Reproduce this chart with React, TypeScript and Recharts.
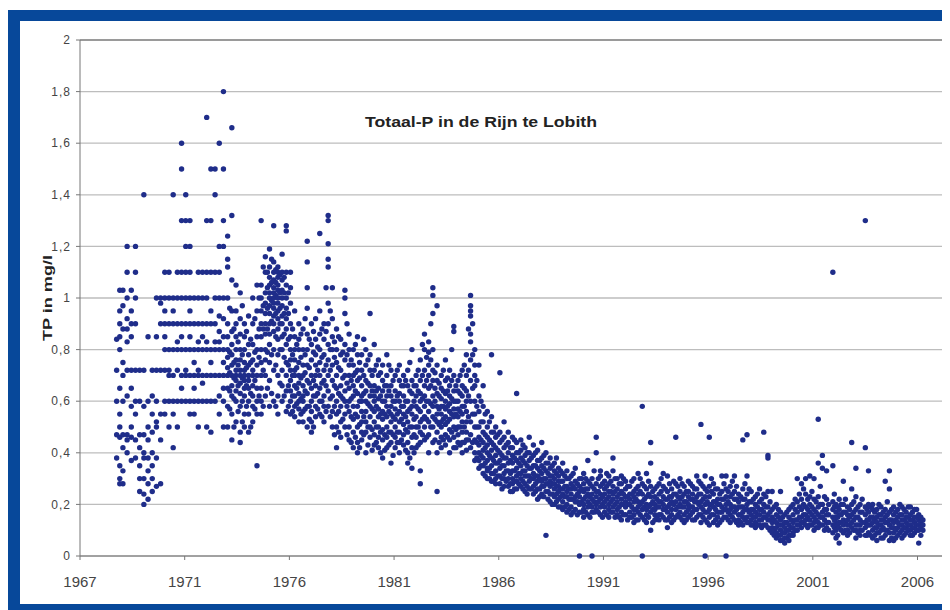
import {
  CartesianGrid,
  ReferenceLine,
  Scatter,
  ScatterChart,
  XAxis,
  YAxis,
} from 'recharts';

// each column: sampling time (decimal year) and the TP values (mg/l) read around it
type Column = [number, number[]];

const tp1968_1970: Column[] = [
  [1968.75, [0.84, 0.72, 0.6, 0.47, 0.38]],
  [1968.9, [1.03, 0.95, 0.9, 0.85, 0.8, 0.65, 0.55, 0.5, 0.46, 0.35, 0.3, 0.28]],
  [1969.05, [1.03, 0.97, 0.88, 0.75, 0.7, 0.6, 0.47, 0.42, 0.33, 0.28]],
  [1969.25, [1.2, 1.1, 1.0, 0.92, 0.88, 0.83, 0.72, 0.62, 0.47, 0.45, 0.4]],
  [1969.45, [1.03, 0.95, 0.9, 0.85, 0.72, 0.65, 0.58, 0.5, 0.46, 0.37]],
  [1969.65, [1.2, 1.1, 1.0, 0.9, 0.72, 0.6, 0.55, 0.45, 0.38]],
  [1969.85, [0.72, 0.6, 0.47, 0.42, 0.35, 0.3, 0.25]],
  [1970.05, [1.4, 0.72, 0.58, 0.47, 0.4, 0.38, 0.3, 0.24, 0.2]],
  [1970.25, [0.85, 0.6, 0.5, 0.45, 0.38, 0.33, 0.28, 0.22]],
  [1970.45, [0.72, 0.62, 0.55, 0.48, 0.4, 0.35, 0.3, 0.25]],
  [1970.65, [1.0, 0.85, 0.72, 0.6, 0.52, 0.5, 0.38, 0.27]],
  [1970.85, [1.0, 0.98, 0.9, 0.72, 0.55, 0.45, 0.28]],
];

const tp1971_1973: Column[] = [
  [1971.05, [1.1, 1.0, 0.95, 0.9, 0.85, 0.8, 0.72, 0.6, 0.55]],
  [1971.25, [1.1, 1.0, 0.9, 0.8, 0.72, 0.7, 0.6, 0.5]],
  [1971.45, [1.4, 1.0, 0.95, 0.9, 0.8, 0.7, 0.6, 0.55, 0.42]],
  [1971.65, [1.1, 1.0, 0.9, 0.83, 0.8, 0.72, 0.6, 0.5]],
  [1971.85, [1.6, 1.5, 1.3, 1.1, 1.0, 0.9, 0.85, 0.8, 0.7, 0.65, 0.6]],
  [1972.05, [1.4, 1.3, 1.2, 1.1, 1.0, 0.9, 0.8, 0.72, 0.7, 0.6]],
  [1972.25, [1.3, 1.2, 1.1, 1.0, 0.95, 0.9, 0.85, 0.8, 0.7, 0.6, 0.55]],
  [1972.45, [1.0, 0.9, 0.8, 0.75, 0.7, 0.65, 0.6, 0.55]],
  [1972.65, [1.1, 1.0, 0.9, 0.83, 0.8, 0.72, 0.7, 0.6, 0.5]],
  [1972.85, [1.1, 1.0, 0.9, 0.85, 0.8, 0.7, 0.67, 0.6]],
  [1973.05, [1.7, 1.3, 1.1, 1.0, 0.9, 0.83, 0.8, 0.7, 0.6, 0.5]],
  [1973.25, [1.5, 1.3, 1.1, 0.95, 0.9, 0.8, 0.75, 0.7, 0.6, 0.48]],
  [1973.45, [1.5, 1.4, 1.1, 1.0, 0.9, 0.83, 0.8, 0.7, 0.6]],
  [1973.65, [1.6, 1.2, 1.1, 1.0, 0.93, 0.87, 0.83, 0.8, 0.7, 0.62, 0.55]],
  [1973.85, [1.8, 1.5, 1.3, 1.2, 1.0, 0.92, 0.85, 0.8, 0.75, 0.7, 0.65, 0.6, 0.5]],
];

const tp1974_1976: Column[] = [
  [1974.05, [1.24, 1.15, 1.12, 1.0, 0.9, 0.85, 0.8, 0.77, 0.73, 0.7, 0.65, 0.58, 0.5]],
  [1974.15, [0.96, 0.79, 0.71, 0.64, 0.57]],
  [1974.25, [1.66, 1.32, 1.07, 0.95, 0.87, 0.82, 0.78, 0.74, 0.7, 0.66, 0.62, 0.55, 0.45]],
  [1974.35, [0.88, 0.75, 0.69, 0.61, 0.5]],
  [1974.45, [1.05, 0.95, 0.9, 0.85, 0.8, 0.76, 0.72, 0.7, 0.68, 0.64, 0.6, 0.52]],
  [1974.55, [0.83, 0.74, 0.66, 0.56]],
  [1974.65, [1.02, 0.92, 0.86, 0.8, 0.76, 0.72, 0.7, 0.67, 0.63, 0.58, 0.48, 0.44]],
  [1974.75, [0.97, 0.78, 0.69, 0.6, 0.52]],
  [1974.85, [0.9, 0.85, 0.8, 0.75, 0.72, 0.7, 0.68, 0.65, 0.62, 0.55, 0.5]],
  [1974.95, [0.87, 0.73, 0.66, 0.58]],
  [1975.05, [0.93, 0.82, 0.78, 0.74, 0.7, 0.68, 0.65, 0.6, 0.55, 0.48]],
  [1975.15, [0.84, 0.75, 0.63, 0.5]],
  [1975.25, [1.0, 0.9, 0.82, 0.76, 0.72, 0.7, 0.66, 0.62, 0.58, 0.52]],
  [1975.35, [0.92, 0.79, 0.68, 0.57]],
  [1975.45, [1.05, 0.95, 0.85, 0.8, 0.74, 0.7, 0.65, 0.6, 0.55, 0.35]],
  [1975.55, [1.0, 0.88, 0.77, 0.62]],
  [1975.65, [1.3, 1.05, 1.0, 0.95, 0.9, 0.85, 0.8, 0.75, 0.7, 0.65, 0.6, 0.55]],
  [1975.75, [1.12, 0.97, 0.88, 0.72, 0.58]],
  [1975.85, [1.16, 1.1, 1.02, 0.98, 0.94, 0.9, 0.86, 0.8, 0.76, 0.7, 0.62]],
  [1975.95, [1.1, 1.04, 0.96, 0.88, 0.79, 0.65]],
  [1976.05, [1.19, 1.12, 1.08, 1.05, 1.02, 1.0, 0.97, 0.94, 0.9, 0.86, 0.82, 0.75, 0.68, 0.58]],
  [1976.15, [1.15, 1.06, 0.99, 0.91, 0.78, 0.63]],
  [1976.25, [1.28, 1.14, 1.1, 1.07, 1.04, 1.02, 1.0, 0.98, 0.96, 0.93, 0.9, 0.87, 0.8, 0.72, 0.6]],
  [1976.35, [1.11, 1.06, 1.01, 0.94, 0.85, 0.74, 0.58]],
  [1976.45, [1.12, 1.1, 1.08, 1.05, 1.03, 1.0, 0.98, 0.95, 0.92, 0.88, 0.84, 0.78, 0.7, 0.62, 0.55]],
  [1976.55, [1.09, 1.02, 0.96, 0.9, 0.8, 0.67]],
  [1976.65, [1.17, 1.1, 1.07, 1.03, 1.0, 0.97, 0.93, 0.9, 0.85, 0.8, 0.72, 0.66, 0.6]],
  [1976.75, [1.08, 1.02, 0.94, 0.86, 0.77, 0.62]],
  [1976.85, [1.28, 1.26, 1.1, 1.05, 1.0, 0.96, 0.92, 0.88, 0.82, 0.75, 0.7, 0.64, 0.56]],
  [1976.95, [1.02, 0.94, 0.84, 0.74, 0.66, 0.58]],
];

const tp1977_1980: Column[] = [
  [1977.05, [1.1, 1.04, 0.98, 0.9, 0.85, 0.8, 0.76, 0.72, 0.68, 0.64, 0.6, 0.55]],
  [1977.15, [0.88, 0.78, 0.7, 0.62, 0.56]],
  [1977.25, [0.95, 0.85, 0.8, 0.76, 0.72, 0.7, 0.66, 0.62, 0.58, 0.54]],
  [1977.35, [0.82, 0.73, 0.65, 0.59]],
  [1977.45, [0.9, 0.84, 0.8, 0.75, 0.7, 0.67, 0.63, 0.6, 0.57, 0.52]],
  [1977.55, [0.86, 0.77, 0.69, 0.61, 0.55]],
  [1977.65, [0.88, 0.8, 0.74, 0.7, 0.66, 0.62, 0.6, 0.56, 0.52]],
  [1977.75, [0.92, 0.78, 0.71, 0.64, 0.57]],
  [1977.85, [1.22, 1.14, 1.04, 0.96, 0.86, 0.8, 0.74, 0.68, 0.63, 0.58, 0.5]],
  [1977.95, [0.84, 0.73, 0.67, 0.58, 0.53]],
  [1978.05, [0.9, 0.82, 0.76, 0.7, 0.65, 0.6, 0.56, 0.52, 0.48]],
  [1978.15, [0.87, 0.79, 0.68, 0.62, 0.5]],
  [1978.25, [0.92, 0.84, 0.78, 0.74, 0.7, 0.66, 0.62, 0.58, 0.54]],
  [1978.35, [0.81, 0.72, 0.63, 0.57]],
  [1978.45, [1.25, 0.95, 0.86, 0.8, 0.75, 0.7, 0.65, 0.6, 0.55]],
  [1978.55, [0.88, 0.77, 0.67, 0.6, 0.54]],
  [1978.65, [0.9, 0.84, 0.78, 0.72, 0.68, 0.62, 0.58, 0.52]],
  [1978.75, [1.04, 0.87, 0.74, 0.66, 0.56]],
  [1978.85, [1.32, 1.3, 1.21, 1.15, 1.12, 0.98, 0.9, 0.82, 0.76, 0.7, 0.64, 0.58]],
  [1978.95, [0.95, 0.8, 0.72, 0.61, 0.54]],
  [1979.05, [1.04, 0.92, 0.85, 0.8, 0.74, 0.68, 0.62, 0.56, 0.5]],
  [1979.15, [0.83, 0.77, 0.66, 0.58, 0.47]],
  [1979.25, [0.88, 0.8, 0.75, 0.7, 0.65, 0.6, 0.55, 0.5, 0.42]],
  [1979.35, [0.85, 0.73, 0.63, 0.56, 0.48]],
  [1979.45, [0.84, 0.78, 0.72, 0.66, 0.62, 0.58, 0.52, 0.46]],
  [1979.55, [0.79, 0.69, 0.61, 0.53]],
  [1979.65, [1.03, 1.0, 0.94, 0.82, 0.76, 0.7, 0.64, 0.6, 0.55, 0.5]],
  [1979.75, [0.9, 0.78, 0.67, 0.58, 0.47]],
  [1979.85, [0.86, 0.8, 0.74, 0.7, 0.65, 0.6, 0.56, 0.5, 0.45]],
  [1979.95, [0.76, 0.68, 0.61, 0.54, 0.44]],
  [1980.05, [0.8, 0.74, 0.7, 0.66, 0.62, 0.58, 0.53, 0.48, 0.42]],
  [1980.15, [0.82, 0.71, 0.64, 0.55, 0.46]],
  [1980.25, [0.85, 0.78, 0.72, 0.68, 0.63, 0.58, 0.54, 0.5, 0.44, 0.4]],
  [1980.35, [0.75, 0.69, 0.6, 0.51, 0.42]],
  [1980.45, [0.78, 0.72, 0.66, 0.62, 0.6, 0.56, 0.52, 0.48, 0.45]],
  [1980.55, [0.84, 0.7, 0.63, 0.54, 0.47]],
  [1980.65, [0.8, 0.74, 0.68, 0.64, 0.6, 0.56, 0.52, 0.48, 0.4]],
  [1980.75, [0.76, 0.67, 0.59, 0.5, 0.43]],
  [1980.85, [0.94, 0.78, 0.72, 0.66, 0.62, 0.58, 0.54, 0.5, 0.46]],
  [1980.95, [0.7, 0.64, 0.57, 0.49, 0.41]],
];

const tp1981_1985: Column[] = [
  [1981.05, [0.82, 0.72, 0.66, 0.62, 0.6, 0.56, 0.52, 0.47, 0.43]],
  [1981.15, [0.74, 0.64, 0.58, 0.5, 0.44]],
  [1981.25, [0.76, 0.7, 0.65, 0.61, 0.57, 0.54, 0.5, 0.46, 0.42]],
  [1981.35, [0.71, 0.62, 0.55, 0.48, 0.4]],
  [1981.45, [0.74, 0.68, 0.64, 0.6, 0.56, 0.53, 0.49, 0.45, 0.38]],
  [1981.55, [0.66, 0.6, 0.55, 0.47, 0.41]],
  [1981.65, [0.78, 0.7, 0.66, 0.62, 0.58, 0.54, 0.5, 0.46, 0.42]],
  [1981.75, [0.74, 0.64, 0.56, 0.48, 0.43]],
  [1981.85, [0.72, 0.66, 0.62, 0.58, 0.55, 0.52, 0.48, 0.44, 0.36]],
  [1981.95, [0.68, 0.6, 0.54, 0.47, 0.39]],
  [1982.05, [0.7, 0.64, 0.6, 0.57, 0.53, 0.5, 0.46, 0.42]],
  [1982.15, [0.72, 0.62, 0.55, 0.48, 0.44]],
  [1982.25, [0.74, 0.68, 0.63, 0.6, 0.56, 0.52, 0.48, 0.44, 0.4]],
  [1982.35, [0.66, 0.58, 0.53, 0.45]],
  [1982.45, [0.7, 0.66, 0.62, 0.58, 0.55, 0.51, 0.47, 0.43]],
  [1982.55, [0.68, 0.6, 0.54, 0.49, 0.41]],
  [1982.65, [0.72, 0.66, 0.6, 0.56, 0.52, 0.48, 0.44, 0.4, 0.36]],
  [1982.75, [0.75, 0.64, 0.57, 0.5, 0.38]],
  [1982.85, [0.8, 0.68, 0.63, 0.58, 0.55, 0.5, 0.46, 0.42, 0.34]],
  [1982.95, [0.66, 0.6, 0.53, 0.47, 0.4]],
  [1983.05, [0.7, 0.66, 0.62, 0.58, 0.54, 0.5, 0.46, 0.42]],
  [1983.15, [0.72, 0.64, 0.57, 0.5, 0.43]],
  [1983.25, [0.76, 0.68, 0.63, 0.6, 0.56, 0.52, 0.48, 0.44, 0.33, 0.28]],
  [1983.35, [0.82, 0.7, 0.61, 0.53, 0.47]],
  [1983.45, [0.86, 0.8, 0.72, 0.66, 0.62, 0.58, 0.54, 0.5, 0.45]],
  [1983.55, [0.77, 0.68, 0.6, 0.53, 0.46]],
  [1983.65, [0.83, 0.79, 0.74, 0.7, 0.65, 0.6, 0.56, 0.52, 0.47, 0.4]],
  [1983.75, [0.9, 0.76, 0.66, 0.59, 0.5]],
  [1983.85, [1.04, 1.01, 0.94, 0.8, 0.72, 0.68, 0.62, 0.58, 0.54, 0.5, 0.44]],
  [1983.95, [0.71, 0.65, 0.6, 0.53, 0.45]],
  [1984.05, [0.97, 0.74, 0.68, 0.63, 0.58, 0.55, 0.52, 0.48, 0.4, 0.25]],
  [1984.15, [0.67, 0.62, 0.57, 0.51, 0.44]],
  [1984.25, [0.7, 0.65, 0.61, 0.58, 0.55, 0.52, 0.5, 0.46, 0.42]],
  [1984.35, [0.72, 0.64, 0.58, 0.53, 0.45]],
  [1984.45, [0.76, 0.68, 0.63, 0.6, 0.57, 0.54, 0.51, 0.47, 0.43]],
  [1984.55, [0.69, 0.64, 0.58, 0.52, 0.46]],
  [1984.65, [0.72, 0.66, 0.62, 0.59, 0.56, 0.53, 0.49, 0.45, 0.4]],
  [1984.75, [0.8, 0.68, 0.61, 0.55, 0.48]],
  [1984.85, [0.89, 0.87, 0.7, 0.64, 0.6, 0.57, 0.54, 0.5, 0.46, 0.42]],
  [1984.95, [0.66, 0.6, 0.55, 0.49, 0.42]],
  [1985.05, [0.68, 0.64, 0.6, 0.57, 0.54, 0.5, 0.47, 0.44]],
  [1985.15, [0.7, 0.63, 0.56, 0.5, 0.43]],
  [1985.25, [0.72, 0.66, 0.62, 0.58, 0.55, 0.52, 0.48, 0.44, 0.4]],
  [1985.35, [0.74, 0.65, 0.58, 0.5, 0.44]],
  [1985.45, [0.78, 0.7, 0.64, 0.6, 0.56, 0.52, 0.48, 0.45, 0.41]],
  [1985.55, [0.88, 0.72, 0.62, 0.54, 0.45]],
  [1985.65, [1.01, 0.97, 0.95, 0.93, 0.86, 0.83, 0.76, 0.68, 0.6, 0.52, 0.47, 0.42]],
  [1985.75, [0.9, 0.78, 0.65, 0.55, 0.44]],
  [1985.85, [0.8, 0.74, 0.7, 0.66, 0.6, 0.55, 0.5, 0.45, 0.4, 0.37]],
  [1985.95, [0.68, 0.58, 0.5, 0.44, 0.38]],
];

const tp1986_1989: Column[] = [
  [1986.05, [0.74, 0.62, 0.56, 0.5, 0.46, 0.43, 0.4, 0.37, 0.34]],
  [1986.15, [0.6, 0.52, 0.45, 0.39, 0.35]],
  [1986.25, [0.66, 0.58, 0.52, 0.48, 0.44, 0.41, 0.38, 0.35, 0.32]],
  [1986.35, [0.55, 0.47, 0.42, 0.36, 0.31]],
  [1986.45, [0.56, 0.5, 0.46, 0.43, 0.4, 0.37, 0.34, 0.33, 0.3]],
  [1986.55, [0.52, 0.45, 0.39, 0.34, 0.3]],
  [1986.65, [0.78, 0.54, 0.48, 0.44, 0.41, 0.38, 0.35, 0.32, 0.29]],
  [1986.75, [0.48, 0.43, 0.37, 0.32, 0.29]],
  [1986.85, [0.5, 0.46, 0.42, 0.39, 0.36, 0.33, 0.3, 0.28]],
  [1986.95, [0.47, 0.41, 0.36, 0.31]],
  [1987.05, [0.71, 0.48, 0.44, 0.4, 0.37, 0.34, 0.31, 0.28]],
  [1987.15, [0.45, 0.39, 0.35, 0.3, 0.26]],
  [1987.25, [0.52, 0.46, 0.42, 0.38, 0.35, 0.32, 0.3, 0.27]],
  [1987.35, [0.43, 0.38, 0.33, 0.29]],
  [1987.45, [0.48, 0.44, 0.4, 0.36, 0.33, 0.3, 0.27]],
  [1987.55, [0.42, 0.37, 0.32, 0.28, 0.25]],
  [1987.65, [0.46, 0.42, 0.39, 0.36, 0.33, 0.3, 0.28, 0.25]],
  [1987.75, [0.45, 0.38, 0.33, 0.29, 0.26]],
  [1987.85, [0.63, 0.44, 0.4, 0.37, 0.34, 0.31, 0.29, 0.26]],
  [1987.95, [0.4, 0.36, 0.32, 0.28]],
  [1988.05, [0.45, 0.41, 0.38, 0.35, 0.32, 0.3, 0.27]],
  [1988.15, [0.43, 0.37, 0.33, 0.29, 0.26]],
  [1988.25, [0.42, 0.39, 0.36, 0.33, 0.31, 0.28, 0.25]],
  [1988.35, [0.4, 0.35, 0.31, 0.27, 0.24]],
  [1988.45, [0.46, 0.4, 0.37, 0.34, 0.31, 0.29, 0.26]],
  [1988.55, [0.38, 0.34, 0.3, 0.26]],
  [1988.65, [0.43, 0.39, 0.35, 0.32, 0.3, 0.27, 0.24]],
  [1988.75, [0.4, 0.35, 0.31, 0.28, 0.25]],
  [1988.85, [0.41, 0.37, 0.34, 0.31, 0.29, 0.26, 0.22]],
  [1988.95, [0.37, 0.33, 0.3, 0.26, 0.23]],
  [1989.05, [0.44, 0.38, 0.35, 0.32, 0.29, 0.27, 0.24]],
  [1989.15, [0.39, 0.34, 0.3, 0.27, 0.23]],
  [1989.25, [0.4, 0.36, 0.33, 0.3, 0.28, 0.25, 0.08]],
  [1989.35, [0.36, 0.32, 0.28, 0.25, 0.22]],
  [1989.45, [0.38, 0.34, 0.31, 0.29, 0.27, 0.24, 0.21]],
  [1989.55, [0.35, 0.31, 0.28, 0.24, 0.2]],
  [1989.65, [0.36, 0.33, 0.3, 0.28, 0.26, 0.23, 0.2]],
  [1989.75, [0.38, 0.32, 0.27, 0.24, 0.21]],
  [1989.85, [0.34, 0.31, 0.29, 0.27, 0.25, 0.22, 0.19]],
  [1989.95, [0.33, 0.29, 0.26, 0.23, 0.19]],
];

const tp1990_1995: Column[] = [
  [1990.05, [0.36, 0.32, 0.29, 0.26, 0.24, 0.21, 0.18]],
  [1990.15, [0.31, 0.27, 0.23, 0.19]],
  [1990.25, [0.33, 0.3, 0.27, 0.25, 0.23, 0.2, 0.17]],
  [1990.35, [0.3, 0.26, 0.22, 0.18]],
  [1990.45, [0.31, 0.28, 0.26, 0.24, 0.22, 0.19, 0.16]],
  [1990.55, [0.32, 0.27, 0.22, 0.17]],
  [1990.65, [0.34, 0.29, 0.26, 0.23, 0.21, 0.18]],
  [1990.75, [0.28, 0.24, 0.21, 0.16]],
  [1990.85, [0.3, 0.27, 0.25, 0.23, 0.2, 0.17, 0.0]],
  [1990.95, [0.3, 0.26, 0.21, 0.17]],
  [1991.05, [0.32, 0.28, 0.25, 0.22, 0.2, 0.18, 0.15]],
  [1991.15, [0.3, 0.26, 0.23, 0.17]],
  [1991.25, [0.37, 0.29, 0.26, 0.24, 0.21, 0.19, 0.16]],
  [1991.35, [0.28, 0.23, 0.2, 0.15]],
  [1991.45, [0.3, 0.27, 0.24, 0.22, 0.19, 0.17, 0.0]],
  [1991.55, [0.33, 0.26, 0.21, 0.17]],
  [1991.65, [0.46, 0.4, 0.28, 0.25, 0.23, 0.2, 0.18]],
  [1991.75, [0.3, 0.25, 0.21, 0.17]],
  [1991.85, [0.33, 0.31, 0.27, 0.24, 0.22, 0.19, 0.16]],
  [1991.95, [0.28, 0.23, 0.2, 0.15]],
  [1992.05, [0.29, 0.26, 0.24, 0.21, 0.19, 0.17]],
  [1992.15, [0.32, 0.27, 0.22, 0.16]],
  [1992.25, [0.31, 0.28, 0.25, 0.23, 0.2, 0.18, 0.15]],
  [1992.35, [0.29, 0.25, 0.21, 0.17]],
  [1992.45, [0.38, 0.33, 0.27, 0.24, 0.22, 0.19, 0.17]],
  [1992.55, [0.3, 0.25, 0.2, 0.15]],
  [1992.65, [0.3, 0.26, 0.23, 0.21, 0.18, 0.16]],
  [1992.75, [0.28, 0.24, 0.19, 0.15]],
  [1992.85, [0.31, 0.28, 0.25, 0.22, 0.2, 0.17, 0.14]],
  [1992.95, [0.3, 0.24, 0.2, 0.16]],
  [1993.05, [0.29, 0.26, 0.23, 0.21, 0.19, 0.16]],
  [1993.15, [0.27, 0.23, 0.2, 0.14]],
  [1993.25, [0.27, 0.24, 0.22, 0.2, 0.17, 0.15]],
  [1993.35, [0.29, 0.24, 0.19, 0.15]],
  [1993.45, [0.3, 0.25, 0.23, 0.21, 0.18, 0.16, 0.13]],
  [1993.55, [0.26, 0.22, 0.18, 0.14]],
  [1993.65, [0.32, 0.27, 0.24, 0.21, 0.19, 0.17, 0.14]],
  [1993.75, [0.3, 0.25, 0.2, 0.16]],
  [1993.85, [0.58, 0.28, 0.24, 0.21, 0.18, 0.15, 0.0]],
  [1993.95, [0.27, 0.22, 0.19, 0.14]],
  [1994.05, [0.32, 0.26, 0.23, 0.2, 0.18, 0.16, 0.13]],
  [1994.15, [0.29, 0.24, 0.19, 0.15]],
  [1994.25, [0.44, 0.36, 0.27, 0.23, 0.2, 0.17, 0.1]],
  [1994.35, [0.25, 0.21, 0.18, 0.13]],
  [1994.45, [0.26, 0.23, 0.2, 0.18, 0.16, 0.14]],
  [1994.55, [0.27, 0.22, 0.19, 0.15]],
  [1994.65, [0.28, 0.24, 0.21, 0.19, 0.16, 0.14]],
  [1994.75, [0.3, 0.25, 0.21, 0.16]],
  [1994.85, [0.32, 0.27, 0.23, 0.2, 0.18, 0.15]],
  [1994.95, [0.26, 0.22, 0.18, 0.14]],
  [1995.05, [0.31, 0.25, 0.22, 0.19, 0.17, 0.14, 0.11]],
  [1995.15, [0.28, 0.23, 0.2, 0.15]],
  [1995.25, [0.26, 0.23, 0.21, 0.18, 0.16, 0.13]],
  [1995.35, [0.29, 0.24, 0.2, 0.14]],
  [1995.45, [0.46, 0.28, 0.24, 0.21, 0.18, 0.15]],
  [1995.55, [0.27, 0.23, 0.19, 0.16]],
  [1995.65, [0.3, 0.25, 0.22, 0.2, 0.17, 0.15]],
  [1995.75, [0.28, 0.23, 0.19, 0.14]],
  [1995.85, [0.27, 0.24, 0.21, 0.19, 0.16, 0.13]],
  [1995.95, [0.25, 0.21, 0.17, 0.14]],
];

const tp1996_1999: Column[] = [
  [1996.05, [0.29, 0.25, 0.23, 0.2, 0.18, 0.15]],
  [1996.15, [0.28, 0.22, 0.19, 0.16]],
  [1996.25, [0.27, 0.24, 0.22, 0.19, 0.17, 0.14]],
  [1996.35, [0.26, 0.21, 0.18, 0.14]],
  [1996.45, [0.31, 0.26, 0.23, 0.21, 0.18, 0.15]],
  [1996.55, [0.29, 0.24, 0.2, 0.16]],
  [1996.65, [0.51, 0.28, 0.24, 0.21, 0.19, 0.16, 0.13]],
  [1996.75, [0.27, 0.22, 0.18, 0.15]],
  [1996.85, [0.31, 0.26, 0.23, 0.2, 0.17, 0.14, 0.0]],
  [1996.95, [0.25, 0.21, 0.17, 0.13]],
  [1997.05, [0.46, 0.27, 0.23, 0.2, 0.18, 0.15, 0.12]],
  [1997.15, [0.3, 0.25, 0.2, 0.16]],
  [1997.25, [0.28, 0.24, 0.21, 0.19, 0.16, 0.13]],
  [1997.35, [0.26, 0.21, 0.18, 0.14]],
  [1997.45, [0.26, 0.22, 0.2, 0.17, 0.15, 0.12]],
  [1997.55, [0.24, 0.2, 0.17, 0.13]],
  [1997.65, [0.31, 0.25, 0.22, 0.19, 0.17, 0.14]],
  [1997.75, [0.28, 0.22, 0.18, 0.15]],
  [1997.85, [0.31, 0.26, 0.23, 0.2, 0.18, 0.15, 0.0]],
  [1997.95, [0.25, 0.21, 0.17, 0.14]],
  [1998.05, [0.27, 0.23, 0.2, 0.18, 0.16, 0.13]],
  [1998.15, [0.29, 0.24, 0.19, 0.15]],
  [1998.25, [0.31, 0.25, 0.22, 0.19, 0.17, 0.14]],
  [1998.35, [0.27, 0.22, 0.18, 0.13]],
  [1998.45, [0.24, 0.21, 0.19, 0.16, 0.14, 0.12]],
  [1998.55, [0.23, 0.19, 0.16, 0.13]],
  [1998.65, [0.45, 0.26, 0.22, 0.19, 0.17, 0.15, 0.12]],
  [1998.75, [0.28, 0.22, 0.18, 0.14]],
  [1998.85, [0.47, 0.31, 0.24, 0.2, 0.18, 0.15, 0.13]],
  [1998.95, [0.26, 0.21, 0.17, 0.13]],
  [1999.05, [0.25, 0.21, 0.18, 0.16, 0.14, 0.12]],
  [1999.15, [0.22, 0.18, 0.15, 0.12]],
  [1999.25, [0.23, 0.2, 0.17, 0.15, 0.13, 0.11]],
  [1999.35, [0.24, 0.19, 0.16, 0.12]],
  [1999.45, [0.26, 0.21, 0.18, 0.16, 0.14, 0.12]],
  [1999.55, [0.22, 0.18, 0.14, 0.11]],
  [1999.65, [0.48, 0.24, 0.2, 0.17, 0.15, 0.12]],
  [1999.75, [0.23, 0.19, 0.15, 0.12]],
  [1999.85, [0.39, 0.38, 0.25, 0.19, 0.16, 0.14, 0.11]],
  [1999.95, [0.21, 0.17, 0.14, 0.1]],
];

const tp2000_2007: Column[] = [
  [2000.05, [0.25, 0.18, 0.15, 0.13, 0.11, 0.09]],
  [2000.15, [0.19, 0.14, 0.1, 0.08]],
  [2000.25, [0.2, 0.16, 0.13, 0.11, 0.09, 0.07]],
  [2000.35, [0.18, 0.15, 0.12, 0.08]],
  [2000.45, [0.25, 0.17, 0.14, 0.12, 0.1, 0.08, 0.06]],
  [2000.55, [0.15, 0.12, 0.09, 0.06]],
  [2000.65, [0.16, 0.13, 0.11, 0.09, 0.07, 0.05]],
  [2000.75, [0.17, 0.13, 0.1, 0.07]],
  [2000.85, [0.18, 0.15, 0.12, 0.1, 0.08, 0.06]],
  [2000.95, [0.19, 0.14, 0.11, 0.08]],
  [2001.05, [0.2, 0.16, 0.13, 0.11, 0.09, 0.08]],
  [2001.15, [0.22, 0.18, 0.14, 0.1]],
  [2001.25, [0.3, 0.21, 0.17, 0.14, 0.12, 0.1]],
  [2001.35, [0.24, 0.19, 0.15, 0.12]],
  [2001.45, [0.28, 0.22, 0.18, 0.15, 0.13, 0.11]],
  [2001.55, [0.26, 0.2, 0.16, 0.13]],
  [2001.65, [0.3, 0.24, 0.19, 0.16, 0.14, 0.12]],
  [2001.75, [0.22, 0.18, 0.15, 0.11]],
  [2001.85, [0.31, 0.23, 0.2, 0.17, 0.14, 0.12]],
  [2001.95, [0.25, 0.19, 0.16, 0.12]],
  [2002.05, [0.3, 0.22, 0.18, 0.15, 0.13, 0.1]],
  [2002.15, [0.21, 0.17, 0.14, 0.11]],
  [2002.25, [0.53, 0.36, 0.23, 0.19, 0.16, 0.13, 0.11]],
  [2002.35, [0.27, 0.2, 0.15, 0.12]],
  [2002.45, [0.39, 0.34, 0.2, 0.17, 0.15, 0.12]],
  [2002.55, [0.23, 0.18, 0.14, 0.1]],
  [2002.65, [0.33, 0.22, 0.18, 0.16, 0.13, 0.11]],
  [2002.75, [0.2, 0.16, 0.13, 0.1]],
  [2002.95, [1.1, 0.35, 0.21, 0.18, 0.15, 0.12, 0.09]],
  [2003.02, [0.24, 0.19, 0.14, 0.11]],
  [2003.1, [0.2, 0.17, 0.15, 0.13, 0.1, 0.07]],
  [2003.18, [0.19, 0.15, 0.12, 0.08]],
  [2003.25, [0.22, 0.18, 0.16, 0.13, 0.11, 0.05]],
  [2003.35, [0.2, 0.16, 0.13, 0.1]],
  [2003.45, [0.29, 0.2, 0.17, 0.14, 0.12, 0.09]],
  [2003.55, [0.22, 0.17, 0.13, 0.1]],
  [2003.65, [0.19, 0.16, 0.14, 0.12, 0.1, 0.08]],
  [2003.75, [0.18, 0.15, 0.12, 0.09]],
  [2003.85, [0.44, 0.26, 0.2, 0.16, 0.13, 0.11]],
  [2003.95, [0.21, 0.17, 0.14, 0.1]],
  [2004.05, [0.34, 0.23, 0.18, 0.15, 0.12, 0.1, 0.07]],
  [2004.15, [0.19, 0.15, 0.12, 0.09]],
  [2004.25, [0.2, 0.17, 0.14, 0.12, 0.1, 0.08]],
  [2004.35, [0.22, 0.17, 0.13, 0.1]],
  [2004.5, [1.3, 0.42, 0.19, 0.16, 0.13, 0.11, 0.08]],
  [2004.58, [0.18, 0.14, 0.12, 0.08]],
  [2004.65, [0.33, 0.2, 0.17, 0.14, 0.12, 0.09]],
  [2004.75, [0.19, 0.15, 0.12, 0.08]],
  [2004.85, [0.2, 0.18, 0.15, 0.13, 0.1, 0.07]],
  [2004.95, [0.17, 0.14, 0.11, 0.08]],
  [2005.05, [0.18, 0.15, 0.13, 0.11, 0.09, 0.06]],
  [2005.15, [0.2, 0.16, 0.12, 0.09]],
  [2005.25, [0.19, 0.16, 0.14, 0.12, 0.1, 0.07]],
  [2005.35, [0.17, 0.14, 0.11, 0.07]],
  [2005.45, [0.29, 0.18, 0.15, 0.13, 0.1, 0.08]],
  [2005.55, [0.21, 0.16, 0.13, 0.1]],
  [2005.65, [0.33, 0.26, 0.17, 0.14, 0.12, 0.09, 0.06]],
  [2005.75, [0.18, 0.14, 0.11, 0.07]],
  [2005.85, [0.19, 0.16, 0.13, 0.11, 0.09, 0.06]],
  [2005.95, [0.17, 0.14, 0.1, 0.07]],
  [2006.05, [0.18, 0.15, 0.13, 0.11, 0.08]],
  [2006.15, [0.2, 0.16, 0.12, 0.09]],
  [2006.25, [0.19, 0.16, 0.14, 0.12, 0.1, 0.07]],
  [2006.35, [0.18, 0.14, 0.11, 0.08]],
  [2006.45, [0.17, 0.15, 0.13, 0.11, 0.09]],
  [2006.55, [0.19, 0.15, 0.12, 0.1]],
  [2006.65, [0.19, 0.16, 0.14, 0.12, 0.1, 0.08]],
  [2006.75, [0.17, 0.14, 0.11, 0.08]],
  [2006.85, [0.18, 0.15, 0.13, 0.11, 0.09]],
  [2006.95, [0.18, 0.15, 0.12, 0.1]],
  [2007.05, [0.16, 0.14, 0.12, 0.1, 0.05]],
  [2007.15, [0.15, 0.13, 0.11, 0.08]],
  [2007.25, [0.14, 0.12, 0.1]],
];

// Excel date axis: a major unit of 1826 days, labelled with the year only
const yearTicks = [1967, 1971.999, 1976.998, 1981.997, 1986.996, 1991.995, 1996.994, 2001.993, 2006.992];
const valueTicks = [0, 0.2, 0.4, 0.6, 0.8, 1, 1.2, 1.4, 1.6, 1.8, 2];

const title = 'Totaal-P in de Rijn te Lobith';
const yTitle = 'TP in mg/l';

const xMin = 1967;
const xMax = 2008.4;

const points = [
  ...tp1968_1970,
  ...tp1971_1973,
  ...tp1974_1976,
  ...tp1977_1980,
  ...tp1981_1985,
  ...tp1986_1989,
  ...tp1990_1995,
  ...tp1996_1999,
  ...tp2000_2007,
].flatMap(([year, values]) => values.map((tp) => ({ year, tp })));

const formatValue = (v: number) =>
  String(Math.round(v * 10) / 10).replace('.', ',');

const Dot = ({ cx, cy }: any) =>
  cx == null || cy == null ? null : <circle cx={cx} cy={cy} r={2.7} fill="#1f2d8a" />;

const YTitle = ({ viewBox }: any) => {
  const cx = viewBox.x + 8;
  const cy = viewBox.y + viewBox.height / 2;
  return (
    <text
      x={cx}
      y={cy}
      transform={`rotate(-90 ${cx} ${cy})`}
      textAnchor="middle"
      dominantBaseline="central"
      fontSize={12}
      fontWeight="bold"
      fill="#222"
      textLength={86}
      lengthAdjust="spacingAndGlyphs"
    >
      {yTitle}
    </text>
  );
};

export default function App() {
  return (
    <div
      style={{
        position: 'relative',
        marginTop: 2,
        width: 942,
        height: 600,
        boxSizing: 'border-box',
        borderLeft: '12px solid #07489a',
        borderTop: '11px solid #07489a',
        borderBottom: '6px solid #07489a',
        background: '#fff',
        fontFamily: '"Liberation Sans", Arial, sans-serif',
      }}
    >
      <ScatterChart
        width={930}
        height={583}
        margin={{ top: 19, right: 3, bottom: 18, left: 20 }}
      >
        <CartesianGrid horizontal vertical={false} stroke="#bdbdbd" strokeWidth={1.3} />
        <XAxis
          type="number"
          dataKey="year"
          domain={[xMin, xMax]}
          ticks={yearTicks}
          tickFormatter={(v: number) => String(Math.floor(v))}
          allowDataOverflow
          height={30}
          tickSize={4}
          tickMargin={16}
          stroke="#777"
          tick={{ fill: '#444', fontSize: 15 }}
        />
        <YAxis
          type="number"
          dataKey="tp"
          domain={[0, 2]}
          ticks={valueTicks}
          tickFormatter={formatValue}
          width={40}
          tickSize={4}
          tickMargin={5}
          stroke="#777"
          tick={{ fill: '#444', fontSize: 12, letterSpacing: 1 }}
          label={{ content: YTitle }}
        />
        <ReferenceLine y={2} stroke="#888" strokeWidth={1.5} />
        <ReferenceLine x={xMax} stroke="#777" strokeWidth={1.5} />
        <Scatter data={points} shape={<Dot />} isAnimationActive={false} />
      </ScatterChart>
      <svg
        width={930}
        height={200}
        style={{ position: 'absolute', left: 0, top: 0, pointerEvents: 'none' }}
      >
        <text
          x={345}
          y={106}
          fontSize={14}
          fontWeight="bold"
          fill="#222"
          textLength={232}
          lengthAdjust="spacingAndGlyphs"
        >
          {title}
        </text>
      </svg>
    </div>
  );
}
